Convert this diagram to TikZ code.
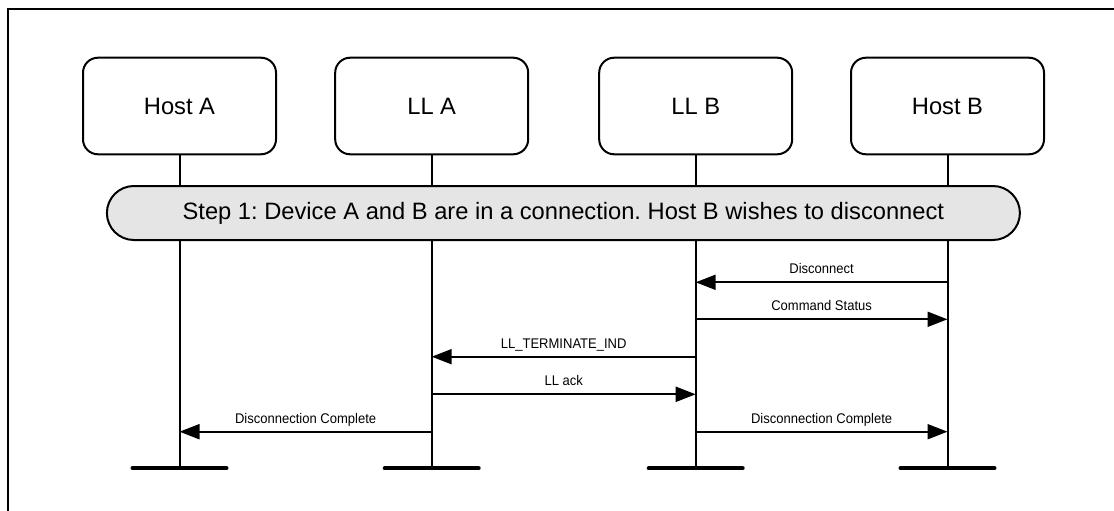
\documentclass[tikz,border=0pt]{standalone}
\usepackage{fontspec}
\setmainfont{Liberation Sans}
\newfontfamily\lblfont[FakeStretch=0.93]{Liberation Sans}
\usetikzlibrary{arrows.meta}
\begin{document}
\frenchspacing
\begin{tikzpicture}[x=1pt,y=-1pt,
 ent/.style={draw,line width=2pt,rounded corners=15pt,minimum width=193pt,minimum height=96.6pt,inner sep=0pt,font=\fontsize{23.7}{28}\selectfont},
 stepbox/.style={draw,line width=2pt,fill=black!10,rounded corners=27pt,minimum width=913pt,minimum height=54pt,inner sep=0pt,font=\fontsize{23.7}{28}\selectfont},
 life/.style={line width=2pt},
 bar/.style={line width=4pt,line cap=round},
 msg/.style={line width=2pt,-{Triangle[length=20pt,width=15pt]}},
 lbl/.style={font=\lblfont\fontsize{14}{16}\selectfont,anchor=base,inner sep=0pt,yshift=8.5pt}]
\useasboundingbox (0,0) rectangle (1114,511);
\clip (0,0) rectangle (1114,511);
\draw[line width=2pt] (8,530) -- (8,9) -- (1130,9);

\node[ent] (hostA) at (179.5,106) {Host A};
\node[ent] (llA) at (431.7,106) {LL A};
\node[ent] (llB) at (695.7,106) {LL B};
\node[ent] (hostB) at (947.5,106) {Host B};

\coordinate (ha) at (179.5,468.3);
\coordinate (la) at (431.7,468.3);
\coordinate (lb) at (695.7,468.3);
\coordinate (hb) at (947.5,468.3);

\draw[life] (hostA.south) -- (ha);
\draw[life] (llA.south) -- (la);
\draw[life] (llB.south) -- (lb);
\draw[life] (hostB.south) -- (hb);

\foreach \c in {ha,la,lb,hb}{
  \draw[bar] ([xshift=-47pt]\c) -- ([xshift=47pt]\c);
}

\node[stepbox] (step) at (563.4,213) {Step 1: Device A and B are in a connection. Host B wishes to disconnect};

\draw[msg] (hostB.south |- 0,282.3) -- node[lbl,midway] {Disconnect} (llB.south |- 0,282.3);
\draw[msg] (llB.south |- 0,319.3) -- node[lbl,midway] {Command Status} (hostB.south |- 0,319.3);
\draw[msg] (llB.south |- 0,356.7) -- node[lbl,midway] {LL\_TERMINATE\_IND} (llA.south |- 0,356.7);
\draw[msg] (llA.south |- 0,394.3) -- node[lbl,midway] {LL ack} (llB.south |- 0,394.3);
\draw[msg] (llA.south |- 0,431.7) -- node[lbl,midway] {Disconnection Complete} (hostA.south |- 0,431.7);
\draw[msg] (llB.south |- 0,431.7) -- node[lbl,midway] {Disconnection Complete} (hostB.south |- 0,431.7);
\end{tikzpicture}
\end{document}
